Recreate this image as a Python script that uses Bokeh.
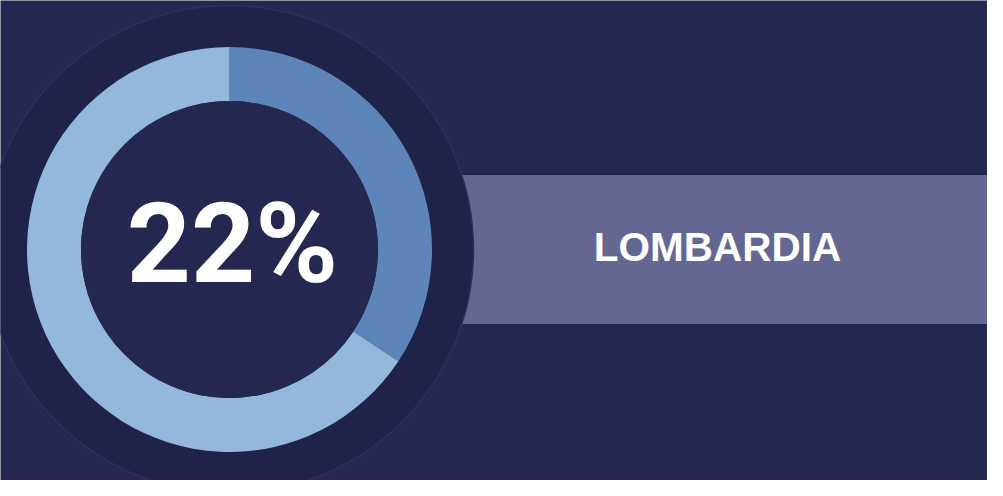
import numpy as np
from bokeh.plotting import figure
from bokeh.models import Range1d, ColumnDataSource
from bokeh.core.properties import value
from bokeh.embed import file_html
from bokeh.resources import INLINE

# ---- data ----
segments = ["Lombardia", "Altro"]
shares = [34.3, 65.7]          # read from the ring segments
seg_colors = ["#5d85b9", "#94b8db"]
label_value = "22%"
label_region = "LOMBARDIA"

# ---- layout ----
W, H = 987, 480
OFF = 8  # page margin
BG = "#242850"

p = figure(width=W, height=H, output_backend="svg", toolbar_location=None,
           x_range=Range1d(0, W), y_range=Range1d(0, H),
           min_border=0, outline_line_color=None,
           background_fill_color=BG, border_fill_color=BG)
p.axis.visible = False
p.grid.visible = False

cx = 237 - OFF
cy = H - (257 - OFF)

# band behind circle
band_top = H - (182.5 - OFF)
band_bot = H - (331.5 - OFF)
p.quad(left=[440 - OFF], right=[W + 20], bottom=[band_bot], top=[band_top],
       fill_color="#636791", line_color=None)

# big dark circle
p.circle(x=[cx], y=[cy], radius=244, radius_units="screen",
         fill_color="#1f2249", line_color="#2c305a", line_width=1.5)

# donut
fr = np.array(shares) / sum(shares)
cum = np.concatenate([[0], np.cumsum(fr)])
start = np.pi / 2 - cum[:-1] * 2 * np.pi
end = np.pi / 2 - cum[1:] * 2 * np.pi
src = ColumnDataSource(dict(seg=segments, start=start, end=end, color=seg_colors,
                            x=[cx] * len(segments), y=[cy] * len(segments)))
p.annular_wedge(x="x", y="y", inner_radius=148.5, outer_radius=202.5,
                inner_radius_units="screen", outer_radius_units="screen",
                start_angle="start", end_angle="end", direction="clock",
                fill_color="color", line_color=None, source=src)

# inner disc
p.circle(x=[cx], y=[cy], radius=148.5, radius_units="screen",
         fill_color=BG, line_color=None)

p.text(x=[240 - OFF], y=[H - (250.5 - OFF)], text=[label_value],
       text_font=value("Roboto"), text_font_style="bold",
       text_font_size="112px", text_color="white",
       text_align="center", text_baseline="middle")

p.text(x=[725 - OFF], y=[H - (254.5 - OFF)], text=[label_region],
       text_font=value("Liberation Sans"), text_font_style="bold",
       text_font_size="40.5px", text_color="white",
       text_align="center", text_baseline="middle")

open("out.html", "w").write(file_html(p, INLINE))
